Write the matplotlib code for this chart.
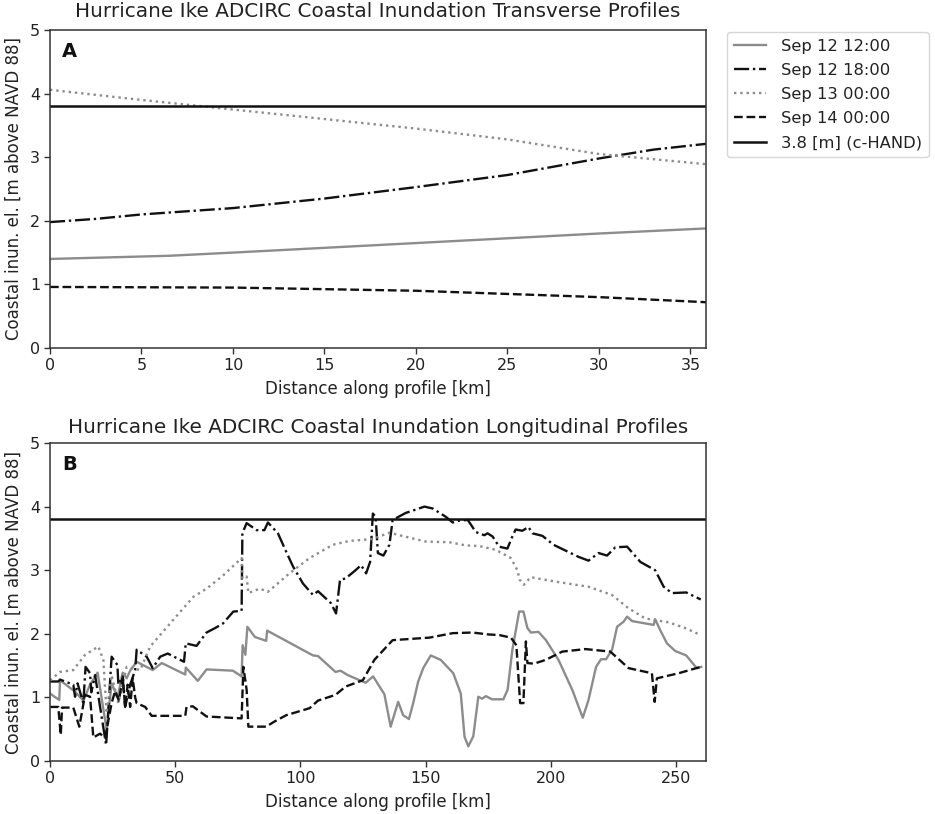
import matplotlib
matplotlib.use("Agg")
import matplotlib.pyplot as plt

plt.rcParams['font.family'] = ['DejaVu Sans']

labels = ["Sep 12 12:00", "Sep 12 18:00", "Sep 13 00:00", "Sep 14 00:00"]
ref_label = "3.8 [m] (c-HAND)"
ref_level = 3.8
title_a = "Hurricane Ike ADCIRC Coastal Inundation Transverse Profiles"
title_b = "Hurricane Ike ADCIRC Coastal Inundation Longitudinal Profiles"

# Panel A
a_gray_x = [0, 6.5, 10, 20, 30, 35.85]
a_gray_y = [1.4, 1.45, 1.5, 1.65, 1.8, 1.88]
a_dd_x = [0, 2.5, 5, 10, 15, 20, 25, 30, 33, 35.85]
a_dd_y = [1.98, 2.03, 2.1, 2.2, 2.35, 2.53, 2.72, 2.98, 3.12, 3.21]
a_dot_x = [0, 5, 10, 15, 20, 25, 30, 35.85]
a_dot_y = [4.06, 3.9, 3.75, 3.6, 3.45, 3.28, 3.05, 2.89]
a_dash_x = [0, 10, 20, 30, 35.85]
a_dash_y = [0.96, 0.95, 0.9, 0.8, 0.72]

# Panel B
b_gray_x = [0, 3.7, 4, 10, 13.3, 16, 19, 22.6, 24.6, 27, 29, 30.6, 32, 34.6, 41, 44.6, 54, 54.2, 59, 62.5, 73, 76.5, 76.9, 78, 78.8,
            81.8, 86.3, 86.7, 105, 107, 114, 116, 118.9, 126, 129, 133.5, 136, 139, 141, 143.3, 145, 147, 149, 152, 156, 161,
            164, 165.5, 167, 169, 171, 172.5, 174, 176.5, 181, 182.7, 184.6, 187.3, 189, 190.6, 192, 195, 198, 203, 208.5,
            212.7, 215, 218, 220, 222, 224.4, 226.4, 229, 230.4, 232.4, 241, 241.6, 243.6, 246.3, 249.6, 254, 258.2, 260]
b_gray_y = [1.06, 0.96, 1.27, 1.09, 0.95, 1.2, 1.39, 0.49, 1.22, 1.0, 1.39, 1.3, 1.42, 1.56, 1.43, 1.54, 1.36, 1.47, 1.26, 1.44, 1.42,
            1.33, 1.82, 1.67, 2.11, 1.95, 1.89, 2.05, 1.66, 1.65, 1.4, 1.42, 1.35, 1.23, 1.33, 1.05, 0.54, 0.93, 0.72, 0.66,
            0.91, 1.25, 1.46, 1.66, 1.59, 1.38, 1.06, 0.38, 0.23, 0.39, 1.01, 0.98, 1.02, 0.97, 0.97, 1.12, 1.75, 2.35, 2.35,
            2.09, 2.02, 2.03, 1.9, 1.59, 1.12, 0.68, 0.96, 1.48, 1.6, 1.6, 1.75, 2.11, 2.19, 2.27, 2.2, 2.14, 2.23, 2.06,
            1.85, 1.73, 1.66, 1.46, 1.48]

b_dd_x = [0, 3.3, 4, 9.3, 10, 11, 13.3, 14.2, 16, 16.5, 18, 22.4, 24.6, 26.9, 27.3, 29, 30, 32, 34, 34.6, 38.6, 41, 44, 47, 53.5, 54.2,
          58.5, 62.5, 65.9, 69, 73.2, 76.5, 76.8, 78.5, 82.5, 85.6, 87, 91, 94.3, 97, 101, 105, 107, 112.2, 114.2, 115.8, 118,
          122, 124.2, 126.2, 127.8, 128.9, 130, 130.9, 133.1, 135.5, 136.8, 142, 149.5, 152.8, 158, 160.8, 163.4, 166.8, 170,
          173.4, 174.7, 176.7, 179.3, 182.6, 184.6, 185.9, 188.6, 191, 192.6, 196.6, 201, 211, 215, 219, 222.4, 225.7, 230.4,
          235.7, 241.6, 245, 248.3, 254, 259.8]
b_dd_y = [1.25, 1.25, 1.28, 1.2, 1.01, 1.22, 0.91, 1.48, 1.38, 1.08, 1.35, 0.25, 1.64, 1.51, 1.2, 1.33, 0.85, 1.2, 1.43, 1.75, 1.64,
          1.46, 1.64, 1.69, 1.56, 1.85, 1.81, 2.02, 2.09, 2.16, 2.35, 2.36, 3.58, 3.74, 3.63, 3.63, 3.75, 3.58, 3.29, 3.06,
          2.79, 2.61, 2.67, 2.48, 2.32, 2.85, 2.87, 3.0, 3.08, 2.95, 3.13, 3.89, 3.84, 3.27, 3.23, 3.4, 3.79, 3.9, 4.0, 3.97,
          3.84, 3.75, 3.78, 3.79, 3.6, 3.55, 3.58, 3.53, 3.37, 3.34, 3.53, 3.64, 3.62, 3.68, 3.58, 3.54, 3.4, 3.21, 3.15,
          3.27, 3.23, 3.36, 3.37, 3.13, 3.0, 2.74, 2.64, 2.65, 2.54]

b_dot_x = [0, 4, 9.3, 14, 19.3, 21.3, 22.6, 24.6, 27.3, 30.6, 36, 40, 49.2, 57.2, 62.5, 69.2, 76.5, 76.8, 78.5, 79.2, 83.7, 87, 95.6,
           103.6, 112.9, 119.5, 128.9, 135.5, 139.5, 150, 159.4, 166, 171.4, 178, 184, 186.6, 187.5, 189.2, 191.9, 201.9, 215,
           224.4, 231, 237.7, 247, 253.6, 259.8]
b_dot_y = [1.27, 1.4, 1.43, 1.67, 1.8, 1.59, 0.75, 1.35, 0.91, 1.48, 1.43, 1.8, 2.22, 2.58, 2.71, 2.92, 3.19, 2.87, 2.9, 2.64, 2.71,
           2.66, 2.95, 3.19, 3.4, 3.46, 3.49, 3.59, 3.55, 3.45, 3.44, 3.39, 3.38, 3.32, 3.19, 3.0, 2.85, 2.77, 2.89, 2.82, 2.74,
           2.61, 2.4, 2.24, 2.18, 2.09, 1.98]

b_dash_x = [0, 3.3, 4.3, 4.8, 9.3, 11.7, 14, 16, 17.3, 20, 22, 24.6, 26, 27.5, 29, 30, 31, 32, 33, 34, 34.6, 38, 40.6, 54, 54.5, 57, 62.5,
            76.5, 77.2, 78.5, 79.2, 86.3, 89.6, 94.3, 103.6, 107, 114, 118, 124.9, 129.5, 136.8, 151.5, 160.8, 168.7, 175,
            179.4, 184, 186.2, 187.7, 189, 190, 190.6, 193.2, 197.9, 204.5, 213.8, 223.7, 231, 240.3, 241.4, 242.3, 251,
            258.9, 260]
b_dash_y = [0.85, 0.85, 0.41, 0.84, 0.84, 0.54, 1.04, 1.01, 0.37, 0.43, 0.36, 0.91, 1.1, 0.95, 1.3, 0.85, 1.2, 0.85, 1.3, 1.0, 0.91, 0.85,
            0.71, 0.71, 0.85, 0.86, 0.7, 0.67, 1.48, 1.12, 0.54, 0.54, 0.62, 0.72, 0.83, 0.95, 1.04, 1.17, 1.27, 1.59, 1.9, 1.94,
            2.01, 2.02, 1.99, 1.98, 1.94, 1.82, 0.91, 0.91, 1.88, 1.54, 1.53, 1.59, 1.72, 1.76, 1.72, 1.46, 1.38, 0.93, 1.3, 1.38,
            1.47, 1.47]

x_ticks_a = [0, 5, 10, 15, 20, 25, 30, 35]
x_ticks_b = [0, 50, 100, 150, 200, 250]
y_ticks = [0, 1, 2, 3, 4, 5]

W, H = 935, 814
fig = plt.figure(figsize=(W / 100, H / 100), dpi=100)
ax_a = fig.add_axes([50 / W, 1 - 348 / H, 656 / W, 318 / H])
ax_b = fig.add_axes([50 / W, 1 - 761 / H, 656 / W, 318 / H])

styles = [
    dict(color="#8c8c8c", ls="-", lw=1.7),
    dict(color="#111111", ls="-.", lw=1.7),
    dict(color="#8c8c8c", ls=":", lw=1.7),
    dict(color="#111111", ls="--", lw=1.7),
]
A = [(a_gray_x, a_gray_y), (a_dd_x, a_dd_y), (a_dot_x, a_dot_y), (a_dash_x, a_dash_y)]
B = [(b_gray_x, b_gray_y), (b_dd_x, b_dd_y), (b_dot_x, b_dot_y), (b_dash_x, b_dash_y)]

for ax, series, xl, xt, title, letter, tpad in [
    (ax_a, A, 35.85, x_ticks_a, title_a, "A", 9.5),
    (ax_b, B, 261.9, x_ticks_b, title_b, "B", 7.5),
]:
    for (x, y), st, lab in zip(series, styles, labels):
        ax.plot(x, y, label=lab, **st)
    ax.axhline(ref_level, color="#111111", lw=1.8, label=ref_label)
    ax.set_xlim(0, xl)
    ax.set_ylim(0, 5)
    ax.set_xticks(xt)
    ax.set_yticks(y_ticks)
    ax.tick_params(labelsize=11.5, color="#333333", labelcolor="#222222", length=4, width=1, pad=3)
    ax.set_xlabel("Distance along profile [km]", fontsize=12, color="#222222", labelpad=5.5)
    ax.set_ylabel("Coastal inun. el. [m above NAVD 88]", fontsize=12, color="#222222", labelpad=5)
    ax.set_title(title, fontsize=14.4, color="#222222", pad=tpad)
    for s in ax.spines.values():
        s.set_color("#333333")
        s.set_linewidth(1.1)
    ax.text(0.018, 0.931, letter, transform=ax.transAxes, fontsize=14, fontweight="bold",
            ha="left", va="center", color="#111111")

ax_a.legend(loc="upper left", bbox_to_anchor=(727 / W, 1 - 32 / H), bbox_transform=fig.transFigure,
            borderaxespad=0, fontsize=11.8, frameon=True, labelcolor="#222222", handlelength=2.0,
            handletextpad=0.9, labelspacing=0.56)

fig.savefig("out.png", dpi=100)
